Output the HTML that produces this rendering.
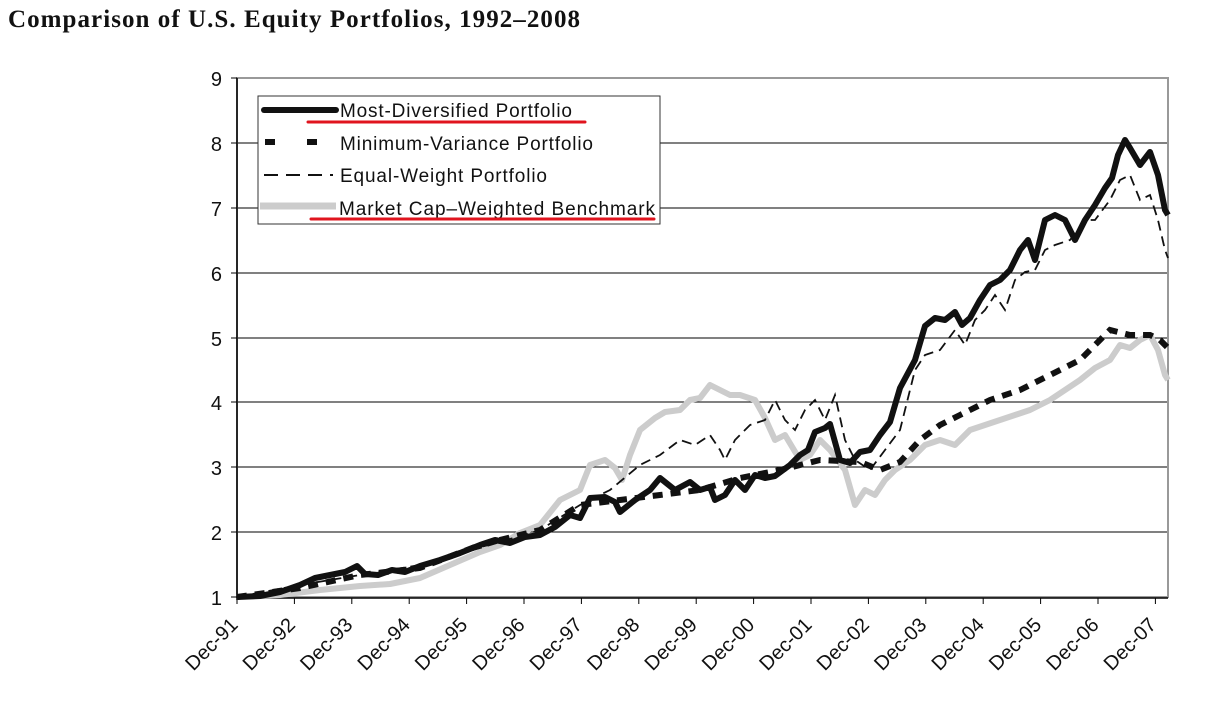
<!DOCTYPE html>
<html><head><meta charset="utf-8"><style>
body{margin:0;background:#fff;width:1214px;height:708px;overflow:hidden}
</style></head><body>
<svg width="1214" height="708" xmlns="http://www.w3.org/2000/svg" font-family="Liberation Sans, sans-serif">
<text x="8" y="27" font-family="Liberation Serif, serif" font-weight="bold" font-size="25" fill="#111" textLength="572">Comparison of U.S. Equity Portfolios, 1992–2008</text>
<g stroke="#000" stroke-width="1">
<line x1="237" y1="143" x2="1168" y2="143"/><line x1="237" y1="208" x2="1168" y2="208"/>
<line x1="237" y1="273" x2="1168" y2="273"/><line x1="237" y1="338" x2="1168" y2="338"/>
<line x1="237" y1="402" x2="1168" y2="402"/><line x1="237" y1="467" x2="1168" y2="467"/>
<line x1="237" y1="532" x2="1168" y2="532"/>
</g>
<rect x="237" y="78" width="931" height="519" fill="none" stroke="#999" stroke-width="2"/>
<line x1="237" y1="78" x2="237" y2="600" stroke="#000" stroke-width="1.5"/>
<line x1="237" y1="598" x2="1168" y2="598" stroke="#000" stroke-width="1.5"/>
<g stroke="#000" stroke-width="1">
<line x1="231" y1="78" x2="237" y2="78"/><line x1="231" y1="143" x2="237" y2="143"/><line x1="231" y1="208" x2="237" y2="208"/><line x1="231" y1="273" x2="237" y2="273"/><line x1="231" y1="338" x2="237" y2="338"/><line x1="231" y1="402" x2="237" y2="402"/><line x1="231" y1="467" x2="237" y2="467"/><line x1="231" y1="532" x2="237" y2="532"/><line x1="231" y1="597" x2="237" y2="597"/>
</g>
<g font-size="20" text-anchor="end" fill="#111">
<text x="222" y="86">9</text><text x="222" y="151">8</text><text x="222" y="216">7</text><text x="222" y="281">6</text><text x="222" y="346">5</text><text x="222" y="410">4</text><text x="222" y="475">3</text><text x="222" y="540">2</text><text x="222" y="605">1</text>
</g>
<g id="ticks" stroke="#000" stroke-width="1"></g>
<g id="xl" font-size="20" fill="#111" text-anchor="end"></g>
<polyline fill="none" stroke="#ccc" stroke-width="6" stroke-linejoin="round" points="237,597 280,595 320,590 360,586 390,584 420,578 450,565 480,552 500,545 520,533 540,525 560,500 580,490 590,465 605,460 615,468 622,480 630,455 640,430 655,418 665,412 680,410 690,400 700,398 710,385 720,390 730,395 740,395 755,400 765,418 775,440 785,435 800,460 810,455 820,440 830,450 845,470 855,505 865,490 875,495 885,480 895,470 910,460 925,445 940,440 955,445 970,430 985,425 1000,420 1015,415 1030,410 1050,400 1065,390 1080,380 1095,368 1110,360 1120,345 1130,348 1140,340 1150,335 1158,350 1165,375 1168,380"/>
<polyline fill="none" stroke="#111" stroke-width="6" stroke-dasharray="10,8" points="237,597 300,588 360,575 420,568 480,545 540,530 580,505 620,500 660,495 700,490 740,478 780,470 820,460 860,462 880,470 900,462 920,440 940,425 960,415 990,400 1020,390 1050,375 1080,360 1110,330 1130,335 1150,335 1160,340 1168,348"/>
<polyline fill="none" stroke="#111" stroke-width="1.8" stroke-dasharray="10,6" points="237,597 300,585 360,575 420,565 480,548 540,530 580,505 610,490 640,465 660,455 680,440 695,445 710,435 720,450 725,460 735,440 750,425 765,420 775,400 785,420 795,430 805,410 815,400 825,420 835,395 845,440 855,460 870,470 885,450 900,430 915,370 925,355 940,350 955,330 965,345 975,320 985,310 995,295 1005,310 1015,280 1025,272 1035,270 1045,250 1055,245 1070,240 1085,220 1095,220 1110,200 1120,180 1130,175 1140,200 1150,195 1158,220 1165,250 1168,258"/>
<polyline fill="none" stroke="#111" stroke-width="6" stroke-linejoin="round" points="237,597 260,596 280,592 300,585 315,578 330,575 345,572 357,566 365,574 378,575 392,570 405,572 420,566 440,560 460,553 480,545 495,540 510,543 525,537 540,535 555,527 570,515 580,518 590,498 605,497 615,502 620,512 635,500 650,490 660,478 675,490 690,482 700,490 710,487 715,500 725,495 735,480 745,490 755,475 765,478 775,476 790,465 800,455 808,450 815,432 825,428 830,424 840,460 850,463 860,452 870,450 880,435 890,422 900,388 915,360 925,326 935,318 945,320 955,312 962,325 970,318 980,300 990,285 1000,280 1010,270 1020,250 1028,240 1035,260 1045,220 1055,215 1065,220 1075,240 1085,220 1095,205 1105,188 1112,178 1118,155 1125,140 1130,148 1140,165 1150,152 1158,175 1165,210 1168,215"/>
<rect x="258" y="96" width="402" height="128" fill="#fff" stroke="#333" stroke-width="1"/>
<line x1="264" y1="110" x2="336" y2="110" stroke="#111" stroke-width="6" stroke-linecap="round"/>
<line x1="265" y1="142" x2="333" y2="142" stroke="#111" stroke-width="6" stroke-dasharray="10,32"/>
<line x1="264" y1="175" x2="333" y2="175" stroke="#111" stroke-width="2" stroke-dasharray="14,8"/>
<line x1="260" y1="206" x2="336" y2="206" stroke="#ccc" stroke-width="7"/>
<g font-size="19" fill="#111">
<text x="340" y="117" textLength="232">Most-Diversified Portfolio</text>
<text x="340" y="150" textLength="253">Minimum-Variance Portfolio</text>
<text x="340" y="182" textLength="207">Equal-Weight Portfolio</text>
<text x="339" y="215" textLength="316">Market Cap–Weighted Benchmark</text>
</g>
<line x1="308" y1="122" x2="585" y2="122" stroke="#e0141e" stroke-width="3" stroke-linecap="round"/>
<line x1="311" y1="219" x2="654" y2="219" stroke="#e0141e" stroke-width="3" stroke-linecap="round"/>
<script>
var lab=["91","92","93","94","95","96","97","98","99","00","01","02","03","04","05","06","07"];
var t=document.getElementById("ticks"),xl=document.getElementById("xl"),ns="http://www.w3.org/2000/svg";
for(var i=0;i<17;i++){var x=237+i*57.4;
var l=document.createElementNS(ns,"line");l.setAttribute("x1",x);l.setAttribute("x2",x);l.setAttribute("y1",598);l.setAttribute("y2",604);t.appendChild(l);
var s=document.createElementNS(ns,"text");s.setAttribute("transform","translate("+(x+2)+",626) rotate(-45)");s.textContent="Dec-"+lab[i];xl.appendChild(s);}
</script>
</svg>
</body></html>
